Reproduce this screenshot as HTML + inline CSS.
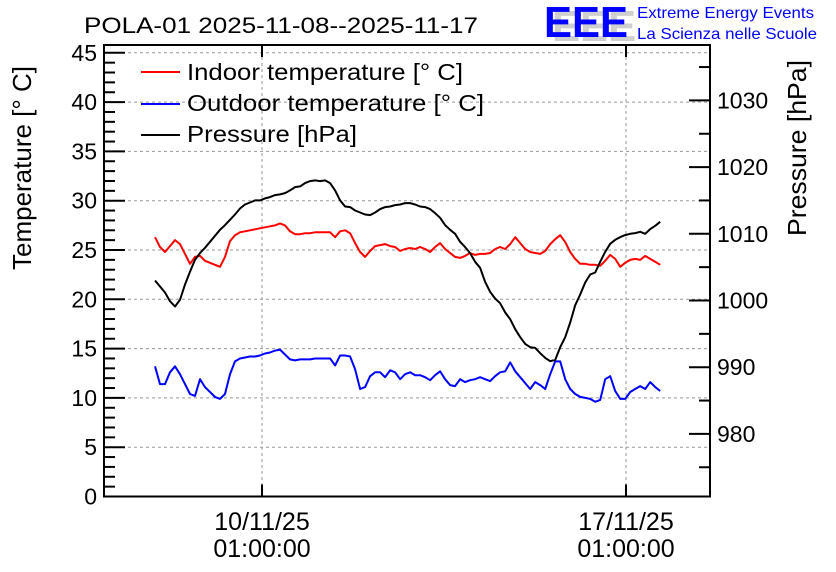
<!DOCTYPE html>
<html><head><meta charset="utf-8"><style>
html,body{margin:0;padding:0;background:#fff;}
svg{display:block;font-family:"Liberation Sans",sans-serif;}
</style></head><body>
<svg id="chart" width="836" height="572" viewBox="0 0 836 572" xmlns="http://www.w3.org/2000/svg">
<rect width="836" height="572" fill="#fff"/>
<text x="84" y="33" font-size="22" fill="#000" textLength="394" lengthAdjust="spacingAndGlyphs">POLA-01 2025-11-08--2025-11-17</text>
<g>
<text x="552" y="41" font-size="44" fill="#cfcfcf" font-weight="bold" textLength="84" lengthAdjust="spacingAndGlyphs">EEE</text>
<text x="544" y="37" font-size="44" fill="#0000ff" font-weight="bold" textLength="84" lengthAdjust="spacingAndGlyphs">EEE</text>
<text x="637" y="18" font-size="16" fill="#0000ff" textLength="177" lengthAdjust="spacingAndGlyphs">Extreme Energy Events</text>
<text x="637" y="39" font-size="16" fill="#0000ff" textLength="180" lengthAdjust="spacingAndGlyphs">La Scienza nelle Scuole</text>
</g>
<g id="grid"></g>
<g id="axes"></g>
<g id="series"></g>
<text transform="translate(31,168) rotate(-90)" text-anchor="middle" font-size="26" textLength="204" lengthAdjust="spacingAndGlyphs">Temperature [° C]</text>
<text transform="translate(806,148) rotate(-90)" text-anchor="middle" font-size="26" textLength="176" lengthAdjust="spacingAndGlyphs">Pressure [hPa]</text>
<g>
<line x1="141" y1="72" x2="180" y2="72" stroke="#ff0000" stroke-width="2"/>
<text x="187" y="80" font-size="23" textLength="276" lengthAdjust="spacingAndGlyphs">Indoor temperature [° C]</text>
<line x1="141" y1="104" x2="180" y2="104" stroke="#0000ff" stroke-width="2"/>
<text x="187" y="111" font-size="23" textLength="297" lengthAdjust="spacingAndGlyphs">Outdoor temperature [° C]</text>
<line x1="141" y1="135" x2="180" y2="135" stroke="#000" stroke-width="2"/>
<text x="187" y="142" font-size="23" textLength="170" lengthAdjust="spacingAndGlyphs">Pressure [hPa]</text>
</g>
</svg>
<script>
// time in days since 10/11/25 01:00:00
const T0 = -2.058;
const TSTEP = 0.0962;
const xTickDays = [0, 7];
const xTickLabels1 = ["10/11/25", "17/11/25"];
const xTickLabels2 = ["01:00:00", "01:00:00"];
const tempTicks = [0,5,10,15,20,25,30,35,40,45];
const pressTicks = [980,990,1000,1010,1020,1030];
const indoorTemp = [26.3,25.3,24.8,25.4,26.0,25.6,24.6,23.6,24.3,24.4,23.9,23.7,23.5,23.3,24.3,25.9,26.5,26.8,26.9,27.0,27.1,27.2,27.3,27.4,27.5,27.7,27.5,26.9,26.6,26.6,26.7,26.7,26.8,26.8,26.8,26.8,26.3,26.9,27.0,26.7,25.7,24.8,24.3,24.9,25.4,25.5,25.6,25.4,25.3,24.9,25.1,25.2,25.1,25.3,25.1,24.8,25.3,25.7,25.1,24.7,24.3,24.2,24.4,24.7,24.5,24.6,24.6,24.7,25.1,25.3,25.1,25.6,26.3,25.7,25.1,24.8,24.7,24.6,24.9,25.6,26.1,26.5,25.8,24.8,24.1,23.6,23.6,23.5,23.5,23.4,23.9,24.5,24.1,23.3,23.7,24.0,24.1,24.0,24.4,24.1,23.8,23.5];
const outdoorTemp = [13.2,11.4,11.4,12.6,13.2,12.4,11.4,10.4,10.2,11.9,11.1,10.6,10.1,9.9,10.4,12.4,13.7,14.0,14.1,14.2,14.2,14.3,14.5,14.6,14.8,14.9,14.4,13.9,13.8,13.9,13.9,13.9,14.0,14.0,14.0,14.0,13.3,14.3,14.3,14.2,12.9,10.9,11.1,12.2,12.6,12.6,12.1,12.8,12.6,11.9,12.4,12.6,12.3,12.3,12.1,11.8,12.3,12.7,11.9,11.3,11.2,11.9,11.6,11.8,11.9,12.1,11.9,11.7,12.2,12.6,12.7,13.6,12.7,12.1,11.5,10.9,11.6,11.3,10.9,12.4,13.7,13.7,11.9,10.9,10.4,10.1,10.0,9.9,9.6,9.8,11.9,12.2,10.7,9.9,9.9,10.6,10.9,11.2,10.9,11.6,11.1,10.7];
const pressure = [1003.0,1002.1,1001.2,999.9,999.1,1000.1,1002.4,1004.3,1006.1,1007.1,1007.9,1008.8,1009.7,1010.6,1011.3,1012.1,1012.9,1013.8,1014.4,1014.7,1015.0,1015.0,1015.3,1015.5,1015.8,1015.9,1016.1,1016.5,1017.0,1017.1,1017.6,1017.9,1018.0,1017.9,1018.0,1017.6,1016.5,1015.0,1014.1,1014.0,1013.5,1013.2,1012.9,1012.8,1013.2,1013.7,1014.0,1014.1,1014.3,1014.4,1014.6,1014.6,1014.4,1014.1,1014.0,1013.7,1013.1,1012.4,1011.3,1010.6,1010.0,1008.8,1008.0,1007.1,1005.8,1004.9,1002.8,1001.3,1000.3,999.6,998.2,997.2,995.7,994.5,993.5,993.0,992.9,992.1,991.4,990.9,991.1,993.0,994.5,996.7,999.3,1000.9,1002.7,1003.9,1004.2,1005.8,1007.3,1008.5,1009.1,1009.5,1009.8,1010.0,1010.1,1010.3,1010.0,1010.7,1011.2,1011.8];

const NS = "http://www.w3.org/2000/svg";
const L = 104, R = 710, TOP = 45, BOT = 496.5;
const xScale = d => 262 + d * 52;
const yT = t => 496.5 - t * 9.86;
const yP = p => 300.5 - (p - 1000) * 6.67;
function mk(tag, attrs, parent) {
  const e = document.createElementNS(NS, tag);
  for (const k in attrs) e.setAttribute(k, attrs[k]);
  parent.appendChild(e);
  return e;
}
const grid = document.getElementById('grid');
const axes = document.getElementById('axes');
const series = document.getElementById('series');
const dash = {stroke:'#999', 'stroke-width':1, 'stroke-dasharray':'3,3'};
tempTicks.forEach(t => {
  const y = yT(t);
  if (t > 0) {
    const g = mk('line', Object.assign({x1:L, x2:R, y1:y, y2:y}, dash), grid);
    
    
  }
  mk('line', {x1:L, x2:L+21, y1:y, y2:y, stroke:'#000', 'stroke-width':2}, axes);
  const lb = mk('text', {x:97, y:y+8, 'text-anchor':'end', 'font-size':23}, axes);
  lb.textContent = t;
  
  
});
for (let t = 1; t < 46; t++) {
  if (t % 5 === 0) continue;
  const y = yT(t);
  mk('line', {x1:L, x2:L+11, y1:y, y2:y, stroke:'#000', 'stroke-width':2}, axes);
}
for (let p = 975; p <= 1035; p += 5) {
  const y = yP(p);
  const major = p % 10 === 0;
  mk('line', {x1:R - (major ? 21 : 11), x2:R, y1:y, y2:y, stroke:'#000', 'stroke-width':2}, axes);
}
pressTicks.forEach(p => {
  const lb = mk('text', {x:717, y:yP(p)+8, 'font-size':23}, axes);
  lb.textContent = p;
  
  
});
xTickDays.forEach((d, i) => {
  const x = xScale(d);
  const g = mk('line', Object.assign({x1:x, x2:x, y1:TOP, y2:BOT}, dash), grid);
  
  
  mk('line', {x1:x, x2:x, y1:BOT, y2:BOT-12, stroke:'#000', 'stroke-width':2}, axes);
  mk('line', {x1:x, x2:x, y1:TOP, y2:TOP+12, stroke:'#000', 'stroke-width':2}, axes);
  const a = mk('text', {x:x, y:530, 'text-anchor':'middle', 'font-size':25}, axes);
  a.textContent = xTickLabels1[i];
  
  
  const b = mk('text', {x:x, y:557, 'text-anchor':'middle', 'font-size':25}, axes);
  b.textContent = xTickLabels2[i];
  
  
});
mk('rect', {x:L, y:TOP, width:R-L, height:BOT-TOP, fill:'none', stroke:'#000', 'stroke-width':2}, axes);
function line(vals, yf, color, name) {
  const pts = vals.map((v, i) => xScale(T0 + i * TSTEP).toFixed(1) + ',' + yf(v).toFixed(1)).join(' ');
  const pl = mk('polyline', {points:pts, fill:'none', stroke:color, 'stroke-width':2, 'stroke-linejoin':'round'}, series);
  
  
}
line(indoorTemp, yT, '#ff0000', 'indoor-temperature-line');
line(outdoorTemp, yT, '#0000ff', 'outdoor-temperature-line');
line(pressure, yP, '#000000', 'pressure-line');
</script>
</body></html>
